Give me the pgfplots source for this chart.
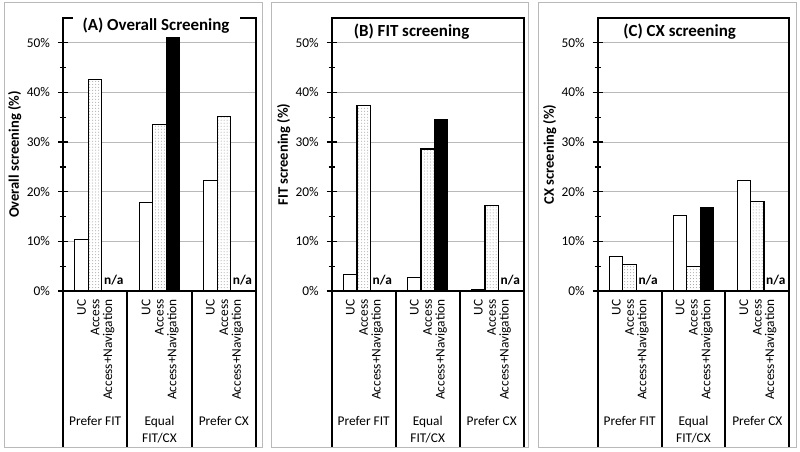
\documentclass[border=0pt]{standalone}
\usepackage{fontspec}
\setmainfont{Carlito}
\usepackage{pgfplots}
\pgfplotsset{compat=1.18}
\usetikzlibrary{patterns}
\newcommand\ticksz{\fontsize{13.4}{16}\selectfont}
\newcommand\titlesz{\bfseries\fontsize{17}{20}\selectfont}
\newcommand\labsz{\bfseries\fontsize{14.6}{17}\selectfont}
\pgfplotsset{
  panel/.style={
    scale only axis, height=273bp, anchor=south west,
    xmin=0, xmax=3, ymin=0, ymax=55,
    clip=false,
    axis line style={line width=2bp, black},
    ytick={0,10,20,30,40,50},
    yticklabels={0\%,10\%,20\%,30\%,40\%,50\%},
    minor ytick={5,15,25,35,45},
    ytick pos=left,
    tick align=center,
    major tick length=10bp, minor tick length=6bp,
    every tick/.style={black, line width=1.3bp},
    ymajorgrids,
    major grid style={gray!55, line width=0.8bp},
    yticklabel style={font=\ticksz, xshift=-4.5bp},
    xtick={0.29,0.5,0.71,1.29,1.5,1.71,2.29,2.5,2.71},
    xticklabels={UC,Access,Access+Navigation,UC,Access,Access+Navigation,UC,Access,Access+Navigation},
    x tick label style={rotate=90, anchor=east, font=\ticksz, yshift=0bp},
    xtick style={draw=none},
    ylabel style={at={(axis description cs:-0.25,0.5)}, anchor=center, font=\labsz},
  },
  ucbar/.style={ybar, bar width=0.21, bar shift=-0.21, fill=white, draw=black, line width=1.1bp},
  accbar/.style={ybar, bar width=0.21, bar shift=0, fill=white, draw=black, line width=1.1bp,
    postaction={pattern=dots, pattern color=black!40}},
  navbar/.style={ybar, bar width=0.21, bar shift=0.21, fill=black, draw=black, line width=1.1bp},
}
\newcommand\bottomdeco{%
  \draw[line width=2bp] (axis cs:0,0) -- (axis cs:0,-31.5);
  \draw[line width=2bp] (axis cs:1,0) -- (axis cs:1,-31.5);
  \draw[line width=2bp] (axis cs:2,0) -- (axis cs:2,-31.5);
  \draw[line width=2bp] (axis cs:3,0) -- (axis cs:3,-31.5);
  \node[font=\ticksz, anchor=base] at (axis cs:0.5,-27.1) {Prefer FIT};
  \node[font=\ticksz, anchor=base] at (axis cs:1.5,-27.1) {Equal};
  \node[font=\ticksz, anchor=base] at (axis cs:1.5,-30.5) {FIT/CX};
  \node[font=\ticksz, anchor=base] at (axis cs:2.5,-27.1) {Prefer CX};
  \node[font=\bfseries\ticksz, anchor=base] at (axis cs:0.79,1.4) {n/a};
  \node[font=\bfseries\ticksz, anchor=base] at (axis cs:2.79,1.4) {n/a};
}
\begin{document}
\begin{tikzpicture}
\useasboundingbox (0,0) rectangle (800bp,452bp);
\fill[white] (0,0) rectangle (800bp,452bp);
\draw[gray!55, line width=1bp] (4bp,4bp) rectangle (262bp,449bp);
\draw[gray!55, line width=1bp] (271bp,4bp) rectangle (528bp,449bp);
\draw[gray!55, line width=1bp] (538bp,4bp) rectangle (796bp,449bp);

% Panel A
\begin{axis}[panel, width=193bp, at={(63bp,161bp)}, ylabel={Overall screening (\%)}]
\addplot[ucbar] coordinates {(0.5,10.4) (1.5,17.9) (2.5,22.3)};
\addplot[accbar] coordinates {(0.5,42.6) (1.5,33.6) (2.5,35.2)};
\addplot[navbar] coordinates {(1.5,51.3)};
\bottomdeco
\node[font=\titlesz, anchor=base, fill=white, inner xsep=10bp, inner ysep=3bp] at (axis cs:1.446,52.44) {(A) Overall Screening};
\end{axis}

% Panel B
\begin{axis}[panel, width=192bp, at={(331.7bp,161bp)}, ylabel={FIT screening (\%)}]
\addplot[ucbar] coordinates {(0.5,3.4) (1.5,2.7) (2.5,0.2)};
\addplot[accbar] coordinates {(0.5,37.3) (1.5,28.6) (2.5,17.2)};
\addplot[navbar] coordinates {(1.5,34.5)};
\bottomdeco
\node[font=\titlesz, anchor=base] at (axis cs:1.248,51.23) {(B) FIT screening};
\end{axis}

% Panel C
\begin{axis}[panel, width=191.5bp, at={(597.7bp,161bp)}, ylabel={CX screening (\%)}]
\addplot[ucbar] coordinates {(0.5,6.9) (1.5,15.3) (2.5,22.3)};
\addplot[accbar] coordinates {(0.5,5.4) (1.5,4.9) (2.5,18.1)};
\addplot[navbar] coordinates {(1.5,16.9)};
\bottomdeco
\node[font=\titlesz, anchor=base] at (axis cs:1.283,51.23) {(C) CX screening};
\end{axis}
\end{tikzpicture}
\end{document}
